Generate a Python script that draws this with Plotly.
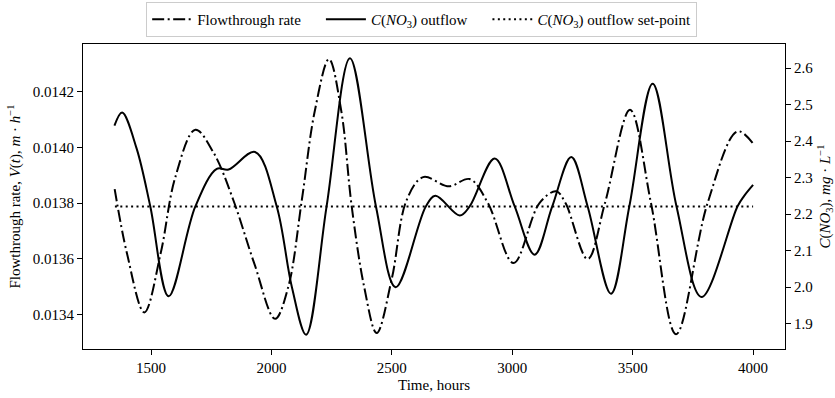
import plotly.graph_objects as go

# Flowthrough rate (left axis), key points
flow_t = [1349, 1400, 1472, 1540, 1600, 1684, 1760, 1842, 1930, 2015, 2070, 2126, 2180, 2239,
          2290, 2333, 2385, 2437, 2500, 2561, 2630, 2737, 2823, 2899, 3005, 3113, 3182, 3221,
          3313, 3385, 3489, 3576, 3680, 3811, 3935, 4000]
flow_v = [0.01385, 0.01362, 0.013408, 0.01362, 0.01389, 0.014063, 0.01398, 0.01381, 0.01358,
          0.013385, 0.01350, 0.01381, 0.01413, 0.014316, 0.01413, 0.01379, 0.01350, 0.013334,
          0.01353, 0.01381, 0.013893, 0.01386, 0.013886, 0.01380, 0.013585, 0.01380, 0.013842,
          0.01380, 0.013599, 0.01380, 0.014134, 0.01380, 0.013330, 0.01380, 0.014057, 0.014013]

# C(NO3) outflow (right axis)
conc_t = [1348, 1380, 1440, 1497, 1573, 1684, 1773, 1822, 1932, 2022, 2085, 2144, 2229, 2326,
          2434, 2516, 2641, 2681, 2782, 2823, 2927, 3010, 3093, 3166, 3245, 3313, 3410, 3486,
          3583, 3682, 3786, 3935, 3963, 4000]
conc_v = [2.442, 2.478, 2.38, 2.221, 1.975, 2.221, 2.324, 2.322, 2.370, 2.221, 2.00, 1.870,
          2.221, 2.627, 2.221, 2.000, 2.221, 2.250, 2.196, 2.221, 2.352, 2.221, 2.089, 2.221,
          2.356, 2.221, 1.982, 2.221, 2.557, 2.221, 1.973, 2.221, 2.25, 2.280]

# Set-point
sp_t = [1350, 4000]
sp_v = [2.221, 2.221]

x_ticks = [1500, 2000, 2500, 3000, 3500, 4000]
yl_ticks = [0.0134, 0.0136, 0.0138, 0.0140, 0.0142]
yr_ticks = [1.9, 2.0, 2.1, 2.2, 2.3, 2.4, 2.5, 2.6]

FONT = "Liberation Serif"
LW = 2
PAD = "\u00a0" * 4

fig = go.Figure()
fig.add_trace(go.Scatter(
    x=flow_t, y=flow_v, mode="lines", name="Flowthrough rate" + PAD,
    line=dict(color="black", width=LW, dash="12px,3.5px,2px,3.5px", shape="spline", smoothing=1.0),
    yaxis="y"))
fig.add_trace(go.Scatter(
    x=conc_t, y=conc_v, mode="lines", name="<i>C</i>(<i>NO</i><sub>3</sub>) outflow" + PAD,
    line=dict(color="black", width=LW, shape="spline", smoothing=1.0),
    yaxis="y2"))
fig.add_trace(go.Scatter(
    x=sp_t, y=sp_v, mode="lines", name="<i>C</i>(<i>NO</i><sub>3</sub>) outflow set-point",
    line=dict(color="black", width=LW, dash="2px,3.4px"),
    yaxis="y2"))

axis_common = dict(showline=True, linecolor="black", linewidth=1.2, ticks="outside",
                   ticklen=5, tickwidth=1, tickcolor="black", showgrid=False, zeroline=False,
                   tickfont=dict(family=FONT, size=15, color="black"))

fig.update_layout(
    width=835, height=398,
    margin=dict(l=83, r=50, t=44, b=49, autoexpand=False),
    paper_bgcolor="white", plot_bgcolor="white",
    font=dict(family=FONT, size=15, color="black"),
    showlegend=True,
    legend=dict(orientation="h", xref="container", yref="container",
                x=0.505, xanchor="center", y=0.995, yanchor="top",
                bordercolor="#cccccc", borderwidth=1, bgcolor="white",
                font=dict(family=FONT, size=15), itemwidth=40),
    xaxis=dict(range=[1217.5, 4132.5], tickvals=x_ticks, mirror=True,
               title=dict(text="Time, hours", standoff=4, font=dict(family=FONT, size=15)),
               **axis_common),
    yaxis=dict(range=[0.013277, 0.01437], tickvals=yl_ticks, tickformat=".4f",
               title=dict(text="Flowthrough rate, <i>V</i>(<i>t</i>), <i>m</i> · <i>h</i><sup>−1</sup>",
                          standoff=8, font=dict(family=FONT, size=15)),
               **axis_common),
    yaxis2=dict(range=[1.8307, 2.6657], tickvals=yr_ticks, tickformat=".1f",
                overlaying="y", side="right",
                title=dict(text="<i>C</i>(<i>NO</i><sub>3</sub>), <i>mg</i> · <i>L</i><sup>−1</sup>",
                           standoff=8, font=dict(family=FONT, size=15)),
                **axis_common),
)

fig.write_html("out.html")
